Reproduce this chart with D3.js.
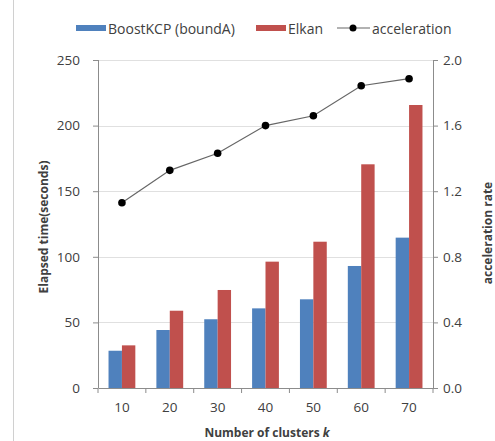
<!DOCTYPE html>
<html>
<head>
<meta charset="utf-8">
<script src="https://cdn.jsdelivr.net/npm/d3@7"></script>
<style>
  body { margin: 0; background: #fff; }
  text { font-family: "Open Sans", "Liberation Sans", sans-serif; fill: #404040; }
</style>
</head>
<body>
<svg id="chart" width="495" height="441"></svg>
<script>
// data
var clusters = [10, 20, 30, 40, 50, 60, 70];
var boostKCP = [28.4, 44.2, 52.4, 60.7, 67.6, 93, 114.6];
var elkan = [32.5, 58.9, 74.7, 96.3, 111.5, 170.5, 215.7];
var acceleration = [1.13, 1.327, 1.431, 1.60, 1.66, 1.843, 1.886];
var leftTicks = [0, 50, 100, 150, 200, 250];
var rightTicks = [0, 0.4, 0.8, 1.2, 1.6, 2.0];

var svg = d3.select('#chart');
var margin = { top: 60, left: 98, right: 62, bottom: 53 };
var W = 495, H = 441;

// faint frame line on the left edge
svg.append('line')
  .attr('x1', 13.5).attr('x2', 13.5).attr('y1', 0).attr('y2', H)
  .attr('stroke', '#d0d0d0');

var x = d3.scaleBand().domain(clusters).range([margin.left, W - margin.right]).paddingInner(0.44).paddingOuter(0.22);
var xOuter = d3.scaleBand().domain(clusters).range([margin.left, W - margin.right]);
var sub = d3.scaleBand().domain(['b', 'e']).range([0, x.bandwidth()]);
var y = d3.scaleLinear().domain([0, 250]).range([H - margin.bottom, margin.top]);
var y2 = d3.scaleLinear().domain([0, 2]).range([H - margin.bottom, margin.top]);

// gridlines
svg.append('g').selectAll('line').data(leftTicks.slice(1)).enter().append('line')
  .attr('x1', margin.left).attr('x2', W - margin.right)
  .attr('y1', function (d) { return Math.round(y(d)) + 0.5; })
  .attr('y2', function (d) { return Math.round(y(d)) + 0.5; })
  .attr('stroke', '#e0e0e0');

// bars
var groups = svg.append('g').selectAll('g').data(clusters).enter().append('g')
  .attr('transform', function (d) { return 'translate(' + x(d) + ',0)'; });
groups.append('rect')
  .attr('x', sub('b')).attr('width', sub.bandwidth())
  .attr('y', function (d, i) { return y(boostKCP[i]); })
  .attr('height', function (d, i) { return y(0) - y(boostKCP[i]); })
  .attr('fill', '#4F81BD');
groups.append('rect')
  .attr('x', sub('e')).attr('width', sub.bandwidth())
  .attr('y', function (d, i) { return y(elkan[i]); })
  .attr('height', function (d, i) { return y(0) - y(elkan[i]); })
  .attr('fill', '#C0504D');

// axes
var axisColor = '#8c8c8c';
var gl = svg.append('g').attr('transform', 'translate(' + margin.left + ',0)')
  .call(d3.axisLeft(y).tickValues(leftTicks).tickSize(5).tickPadding(13));
var gr = svg.append('g').attr('transform', 'translate(' + (W - margin.right) + ',0)')
  .call(d3.axisRight(y2).tickValues(rightTicks).tickSize(5).tickPadding(5).tickFormat(d3.format('.1f')));
var gb = svg.append('g').attr('transform', 'translate(0,' + y(0) + ')')
  .call(d3.axisBottom(xOuter).tickSize(0).tickPadding(14));
// ticks between categories on bottom axis
svg.append('g').selectAll('line').data(clusters.concat(['end'])).enter().append('line')
  .attr('x1', function (d) { return d === 'end' ? W - margin.right : xOuter(d); })
  .attr('x2', function (d) { return d === 'end' ? W - margin.right : xOuter(d); })
  .attr('y1', y(0)).attr('y2', y(0) + 5)
  .attr('stroke', axisColor);

[gl, gr, gb].forEach(function (g) {
  g.selectAll('path, line').attr('stroke', axisColor);
  g.selectAll('text').attr('font-size', 13.5).attr('fill', '#404040')
    .attr('font-family', '"Open Sans", sans-serif');
});
gl.select('.domain').attr('d', 'M0.5,' + y(250) + 'V' + y(0));
gr.select('.domain').attr('d', 'M0.5,' + y2(2) + 'V' + y2(0));

// acceleration line
var line = d3.line()
  .x(function (d, i) { return xOuter(clusters[i]) + xOuter.bandwidth() / 2; })
  .y(function (d) { return y2(d); });
svg.append('path').datum(acceleration)
  .attr('d', line).attr('fill', 'none').attr('stroke', '#666').attr('stroke-width', 1.2);
svg.append('g').selectAll('circle').data(acceleration).enter().append('circle')
  .attr('cx', function (d, i) { return xOuter(clusters[i]) + xOuter.bandwidth() / 2; })
  .attr('cy', function (d) { return y2(d); })
  .attr('r', 3.8).attr('fill', '#000');

// axis titles
svg.append('text')
  .attr('transform', 'translate(43,227) rotate(-90)')
  .attr('text-anchor', 'middle').attr('dominant-baseline', 'central')
  .attr('font-size', 12).attr('font-weight', 'bold').attr('fill', '#000')
  .text('Elapsed time(seconds)');
svg.append('text')
  .attr('transform', 'translate(487,233) rotate(-90)')
  .attr('text-anchor', 'middle').attr('dominant-baseline', 'central')
  .attr('font-size', 12).attr('font-weight', 'bold').attr('fill', '#000')
  .text('acceleration rate');
var xt = svg.append('text')
  .attr('x', 267).attr('y', 432)
  .attr('text-anchor', 'middle').attr('dominant-baseline', 'central')
  .attr('font-size', 12).attr('font-weight', 'bold').attr('fill', '#000');
xt.append('tspan').text('Number of clusters ');
xt.append('tspan').attr('font-style', 'italic').text('k');

// legend
var leg = svg.append('g').attr('transform', 'translate(0,28)');
leg.append('rect').attr('x', 76).attr('y', -3).attr('width', 30).attr('height', 6).attr('fill', '#4F81BD');
leg.append('text').attr('x', 108).attr('dominant-baseline', 'central').attr('font-size', 14).attr('fill', '#000').text('BoostKCP (boundA)');
leg.append('rect').attr('x', 256).attr('y', -3).attr('width', 30).attr('height', 6).attr('fill', '#C0504D');
leg.append('text').attr('x', 288).attr('dominant-baseline', 'central').attr('font-size', 14).attr('fill', '#000').text('Elkan');
leg.append('line').attr('x1', 337).attr('x2', 370).attr('y1', 0).attr('y2', 0).attr('stroke', '#666').attr('stroke-width', 1.2);
leg.append('circle').attr('cx', 353).attr('cy', 0).attr('r', 3.5).attr('fill', '#000');
leg.append('text').attr('x', 372).attr('dominant-baseline', 'central').attr('font-size', 14).attr('fill', '#000').text('acceleration');
</script>
</body>
</html>
